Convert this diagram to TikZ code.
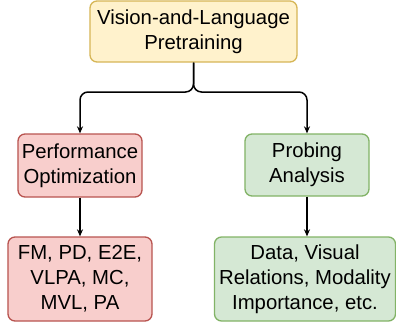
\documentclass[tikz,border=0pt]{standalone}
\usepackage{fontspec}
\setmainfont{Liberation Sans}
\usetikzlibrary{arrows.meta}
\definecolor{yfill}{HTML}{FFF2CC}
\definecolor{ydraw}{HTML}{D6B656}
\definecolor{rfill}{HTML}{F8CECC}
\definecolor{rdraw}{HTML}{B85450}
\definecolor{gfill}{HTML}{D5E8D4}
\definecolor{gdraw}{HTML}{82B366}
\tikzset{
  box/.style={rectangle, rounded corners=7bp, line width=1.3bp, inner sep=0pt, align=center,
    font=\fontsize{20.4}{25}\selectfont},
  ybox/.style={box, fill=yfill, draw=ydraw},
  rbox/.style={box, fill=rfill, draw=rdraw},
  gbox/.style={box, fill=gfill, draw=gdraw},
  conn/.style={line width=1.5bp, -{Stealth[length=7bp,width=6bp]}, rounded corners=8bp}
}
\begin{document}
\begin{tikzpicture}[x=1bp,y=-1bp]
\useasboundingbox (0,0) rectangle (396,323);
\node[ybox, minimum width=207bp, minimum height=61bp] (top) at (193.5,31.5) {Vision-and-Language\\Pretraining};
\node[rbox, minimum width=124bp, minimum height=63bp] (lm) at (80,165.5) {Performance\\Optimization};
\node[gbox, minimum width=124bp, minimum height=62bp] (rm) at (307,165) {Probing\\Analysis};
\node[rbox, minimum width=144bp, minimum height=84bp] (lb) at (80,279) {FM, PD, E2E,\\VLPA, MC,\\MVL, PA};
\node[gbox, minimum width=181bp, minimum height=84bp] (rb) at (305,279) {Data, Visual\\Relations, Modality\\Importance, etc.};
\coordinate (split) at (193.5,92);
\draw[conn] (top.south) -- (split) -| (lm.north);
\draw[conn] (top.south) -- (split) -| (rm.north);
\draw[conn] (lm.south) -- (lb.north);
\draw[conn] (rm.south) -- (rm.south |- rb.north);
\end{tikzpicture}
\end{document}
